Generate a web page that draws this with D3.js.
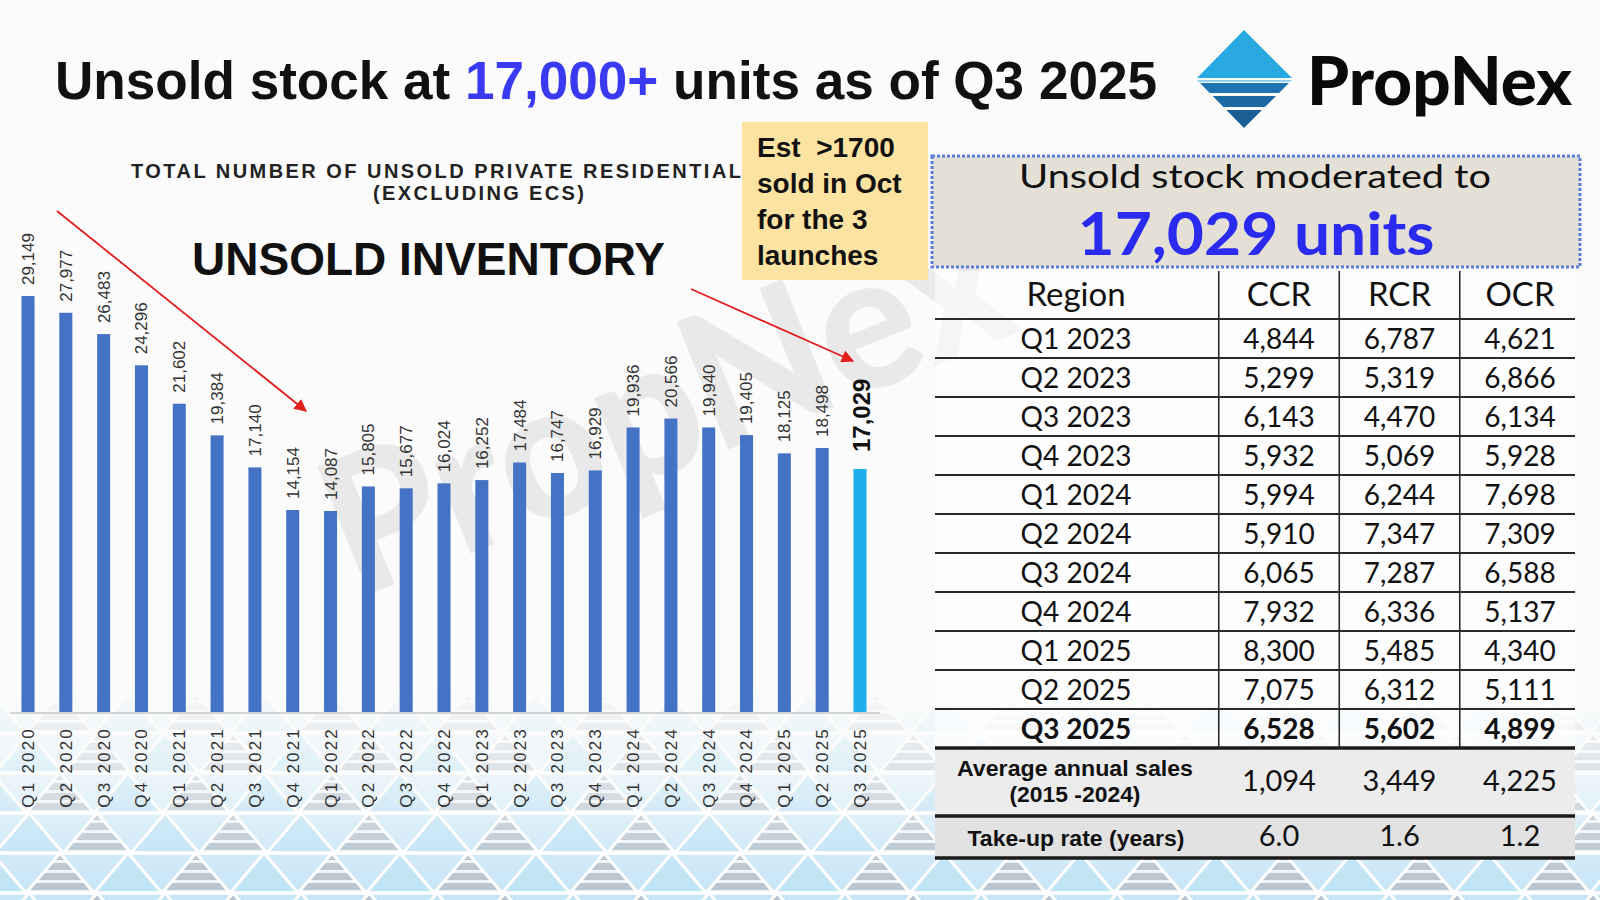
<!DOCTYPE html>
<html><head><meta charset="utf-8">
<script src="https://cdn.jsdelivr.net/npm/d3@7"></script>
<style>html,body{margin:0;padding:0;background:#fbfbfb;} svg{display:block;}</style>
</head><body>
<svg id="c" width="1600" height="900"></svg>
<script>
// ---------------- DATA ----------------
const categories = ["Q1 2020","Q2 2020","Q3 2020","Q4 2020","Q1 2021","Q2 2021","Q3 2021","Q4 2021",
  "Q1 2022","Q2 2022","Q3 2022","Q4 2022","Q1 2023","Q2 2023","Q3 2023","Q4 2023",
  "Q1 2024","Q2 2024","Q3 2024","Q4 2024","Q1 2025","Q2 2025","Q3 2025"];
const unsold = [29149,27977,26483,24296,21602,19384,17140,14154,
  14087,15805,15677,16024,16252,17484,16747,16929,
  19936,20566,19940,19405,18125,18498,17029];
const highlightCategory = "Q3 2025";

const tableQuarters = ["Q1 2023","Q2 2023","Q3 2023","Q4 2023","Q1 2024","Q2 2024",
  "Q3 2024","Q4 2024","Q1 2025","Q2 2025","Q3 2025"];
const tableRegions = ["CCR","RCR","OCR"];
const ccr = [4844,5299,6143,5932,5994,5910,6065,7932,8300,7075,6528];
const rcr = [6787,5319,4470,5069,6244,7347,7287,6336,5485,6312,5602];
const ocr = [4621,6866,6134,5928,7698,7309,6588,5137,4340,5111,4899];
const avgAnnualSales = [1094,3449,4225];
const takeUpRate = [6.0,1.6,1.2];

const titleParts = ["Unsold stock at ","17,000+"," units as of Q3 2025"];
const noteLines = ["Est  >1700","sold in Oct","for the 3","launches"];

// ---------------- SETUP ----------------
const svg = d3.select("#c");
const defs = svg.append("defs");
const fmt = d3.format(",");

svg.append("rect").attr("width",1600).attr("height",900).attr("fill","#fbfbfb");

// ---------- decorative bottom pattern ----------
const bandGrad = defs.append("linearGradient").attr("id","bandGrad")
  .attr("x1",0).attr("y1",0).attr("x2",0).attr("y2",1);
bandGrad.append("stop").attr("offset","0").attr("stop-color","#e6f3fa");
bandGrad.append("stop").attr("offset","1").attr("stop-color","#c6e5f6");
const stripes = defs.append("pattern").attr("id","stripes").attr("patternUnits","userSpaceOnUse")
  .attr("width",10).attr("height",10).attr("y",3);
stripes.append("rect").attr("width",10).attr("height",10).attr("fill","#eef5fa");
stripes.append("rect").attr("width",10).attr("height",7).attr("fill","#b9c5cf");

const deco = svg.append("g");
deco.append("rect").attr("x",0).attr("y",690).attr("width",1600).attr("height",210).attr("fill","url(#bandGrad)");
const rowH = 40, triW = 68;
for (let r = 0; r < 6; r++) {
  const top = 693 + r*rowH;
  const phase = (r % 2 === 1) ? -39 : -76;
  for (let k = 0; k < 30; k++) {
    const ax = phase + k*triW;
    deco.append("path")
      .attr("d", `M${ax},${top} L${ax+triW/2},${top+rowH} L${ax-triW/2},${top+rowH} Z`)
      .attr("fill", k % 2 === 0 ? "url(#stripes)" : "#bfe3f5")
      .attr("stroke","#ffffff").attr("stroke-width",3);
  }
  deco.append("line").attr("x1",0).attr("x2",1600).attr("y1",top).attr("y2",top)
    .attr("stroke","#fff").attr("stroke-width",3);
}
const fade = defs.append("linearGradient").attr("id","fade").attr("gradientUnits","userSpaceOnUse")
  .attr("x1",0).attr("y1",688).attr("x2",0).attr("y2",900);
fade.append("stop").attr("offset","0").attr("stop-color","#fbfbfb").attr("stop-opacity",0.95);
fade.append("stop").attr("offset","0.45").attr("stop-color","#fbfbfb").attr("stop-opacity",0.5);
fade.append("stop").attr("offset","0.75").attr("stop-color","#fbfbfb").attr("stop-opacity",0.12);
fade.append("stop").attr("offset","1").attr("stop-color","#fbfbfb").attr("stop-opacity",0);
deco.append("rect").attr("x",0).attr("y",688).attr("width",1600).attr("height",212).attr("fill","url(#fade)");

// ---------- watermark ----------
svg.append("text").attr("transform","translate(690,465) rotate(-22)")
  .attr("text-anchor","middle").attr("font-family","Lato, sans-serif").attr("font-weight",900)
  .attr("font-size",190).attr("fill","#000").attr("opacity",0.065)
  .attr("textLength",720).attr("lengthAdjust","spacingAndGlyphs")
  .text("PropNex");

// ---------- title ----------
const title = svg.append("text").attr("x",55).attr("y",99)
  .attr("font-family","'Liberation Sans', Arial, sans-serif").attr("font-weight","bold")
  .attr("font-size",54).attr("fill","#111")
  .attr("textLength",1102).attr("lengthAdjust","spacingAndGlyphs");
titleParts.forEach((p,i)=>{
  title.append("tspan").attr("fill", i===1 ? "#3a3af2" : "#111").text(p);
});

// ---------- logo ----------
const logo = svg.append("g");
logo.append("path").attr("d","M1244,30 L1292,78 L1197,78 Z").attr("fill","#29a9e1");
defs.append("clipPath").attr("id","lowTri").append("path").attr("d","M1197,80 L1292,80 L1244,128 Z");
const lg = logo.append("g").attr("clip-path","url(#lowTri)");
lg.append("rect").attr("x",1190).attr("y",80).attr("width",110).attr("height",2).attr("fill","#8fd2f0");
lg.append("rect").attr("x",1190).attr("y",83).attr("width",110).attr("height",10).attr("fill","#1f73b0");
lg.append("rect").attr("x",1190).attr("y",96).attr("width",110).attr("height",11).attr("fill","#1c69a4");
lg.append("rect").attr("x",1190).attr("y",110).attr("width",110).attr("height",20).attr("fill","#1a5e93");
logo.append("text").attr("x",1307).attr("y",105)
  .attr("font-family","Lato, Inter, sans-serif").attr("font-weight",900).attr("font-size",66)
  .attr("fill","#0a0a0a").attr("textLength",265).attr("lengthAdjust","spacingAndGlyphs").text("PropNex");

// ---------- chart headings ----------
svg.append("text").attr("x",131).attr("y",178)
  .attr("font-family","'Liberation Sans', Arial, sans-serif").attr("font-weight","bold").attr("font-size",20)
  .attr("fill","#222").attr("textLength",610).attr("lengthAdjust","spacing")
  .text("TOTAL NUMBER OF UNSOLD PRIVATE RESIDENTIAL");
svg.append("text").attr("x",373).attr("y",200)
  .attr("font-family","'Liberation Sans', Arial, sans-serif").attr("font-weight","bold").attr("font-size",20)
  .attr("fill","#222").attr("textLength",211).attr("lengthAdjust","spacing")
  .text("(EXCLUDING ECS)");
svg.append("text").attr("x",192).attr("y",275)
  .attr("font-family","'Liberation Sans', Arial, sans-serif").attr("font-weight","bold").attr("font-size",46)
  .attr("fill","#111").attr("textLength",473).attr("lengthAdjust","spacingAndGlyphs")
  .text("UNSOLD INVENTORY");

// ---------- bar chart ----------
const baseY = 712;
const x = d3.scaleBand().domain(categories).range([9.1, 878.9]).paddingInner(0.656).paddingOuter(0.328);
const y = d3.scaleLinear().domain([0, 30000]).range([baseY, baseY - 428.1]);
const data = categories.map((c,i)=>({cat:c, v:unsold[i], hi: c===highlightCategory}));

svg.append("line").attr("x1",10).attr("x2",880).attr("y1",baseY+1).attr("y2",baseY+1)
  .attr("stroke","#d3d3d3").attr("stroke-width",2);

svg.append("g").selectAll("rect").data(data).join("rect")
  .attr("x", d=>x(d.cat)).attr("width", x.bandwidth())
  .attr("y", d=>y(d.v)).attr("height", d=>baseY - y(d.v))
  .attr("fill", d=> d.hi ? "#1fb0ec" : "#4472c4");

svg.append("g").selectAll("text").data(data).join("text")
  .attr("transform", d=>`translate(${x(d.cat)+x.bandwidth()/2 + (d.hi?2:0)},${y(d.v) - (d.hi?17:11)}) rotate(-90)`)
  .attr("dy","0.35em").attr("text-anchor","start")
  .attr("font-family","'Liberation Sans', Arial, sans-serif")
  .attr("font-size", d=> d.hi ? 24 : 17).attr("font-weight", d=> d.hi ? "bold" : "normal")
  .attr("fill", d=> d.hi ? "#111" : "#333")
  .text(d=>fmt(d.v));

const xAxis = svg.append("g").attr("transform",`translate(0,${baseY})`)
  .call(d3.axisBottom(x).tickSize(0));
xAxis.select(".domain").remove();
xAxis.selectAll("text")
  .attr("x",-15).attr("y",0).attr("dy","0.35em").attr("transform","rotate(-90)")
  .attr("text-anchor","end")
  .attr("font-family","'Liberation Sans', Arial, sans-serif").attr("font-size",17)
  .attr("letter-spacing","2.2px").attr("fill","#333");

// red arrows
defs.append("marker").attr("id","arrowHead").attr("viewBox","0 0 10 10").attr("refX",9).attr("refY",5)
  .attr("markerWidth",7).attr("markerHeight",7).attr("orient","auto-start-reverse")
  .append("path").attr("d","M0,0 L10,5 L0,10 Z").attr("fill","#e31e1e");
svg.append("line").attr("x1",57).attr("y1",211).attr("x2",306).attr("y2",411)
  .attr("stroke","#e31e1e").attr("stroke-width",1.8).attr("marker-end","url(#arrowHead)");
svg.append("line").attr("x1",691).attr("y1",289).attr("x2",853).attr("y2",361)
  .attr("stroke","#e31e1e").attr("stroke-width",1.8).attr("marker-end","url(#arrowHead)");

// ---------- yellow note ----------
svg.append("rect").attr("x",742).attr("y",122).attr("width",186).attr("height",158).attr("fill","#fde3a1");
svg.append("g").selectAll("text").data(noteLines).join("text")
  .attr("x",757).attr("y",(d,i)=>157 + i*36)
  .attr("font-family","'Liberation Sans', Arial, sans-serif").attr("font-weight","bold").attr("font-size",28)
  .attr("fill","#111").style("white-space","pre").text(d=>d);

// ---------- summary box ----------
svg.append("rect").attr("x",932).attr("y",156).attr("width",648).attr("height",111)
  .attr("fill","#e4e0d6").attr("stroke","#5b7fd6").attr("stroke-width",3).attr("stroke-dasharray","3 2");
svg.append("text").attr("x",1255).attr("y",188).attr("text-anchor","middle")
  .attr("font-family","Lato, sans-serif").attr("font-size",32).attr("fill","#111")
  .attr("textLength",472).attr("lengthAdjust","spacingAndGlyphs").text("Unsold stock moderated to");
svg.append("text").attr("x",1256).attr("y",255).attr("text-anchor","middle")
  .attr("font-family","Lato, sans-serif").attr("font-weight",700).attr("font-size",60).attr("fill","#2b2bf0")
  .attr("textLength",357).attr("lengthAdjust","spacingAndGlyphs").text(fmt(unsold[unsold.length-1]) + " units");

// ---------- table ----------
const tLeft = 935, tRight = 1575, firstColCx = 1076;
const col = d3.scalePoint().domain(tableRegions).range([1279, 1520]);
const row = d3.scaleBand().domain(tableQuarters).range([319, 748]);
const colStep = col.step();
const tbl = svg.append("g");
tbl.append("rect").attr("x",tLeft).attr("y",271).attr("width",tRight-tLeft).attr("height",748-271)
  .attr("fill","#ffffff").attr("opacity",0.55);
tbl.append("rect").attr("x",tLeft).attr("y",748).attr("width",tRight-tLeft).attr("height",68).attr("fill","#ececec");
tbl.append("rect").attr("x",tLeft).attr("y",816).attr("width",tRight-tLeft).attr("height",42).attr("fill","#e2e2e2");

const tFont = "Lato, sans-serif";
// header
tbl.append("text").attr("x",firstColCx).attr("y",306).attr("text-anchor","middle")
  .attr("font-family",tFont).attr("font-size",33).attr("fill","#111").text("Region");
tbl.selectAll("text.hdr").data(tableRegions).join("text").attr("class","hdr")
  .attr("x",d=>col(d)).attr("y",306).attr("text-anchor","middle")
  .attr("font-family",tFont).attr("font-size",33).attr("fill","#111").text(d=>d);

const cols = [ccr, rcr, ocr];
const rowsData = tableQuarters.map((q,i)=>({q, vals: cols.map(c=>c[i]), bold: i===tableQuarters.length-1}));
const rg = tbl.selectAll("g.row").data(rowsData).join("g").attr("class","row")
  .attr("transform", d=>`translate(0,${row(d.q) + row.bandwidth()/2 + 10})`);
rg.append("text").attr("x",firstColCx).attr("text-anchor","middle")
  .attr("font-family",tFont).attr("font-size",28).attr("font-weight",d=>d.bold?700:400)
  .attr("fill","#111").text(d=>d.q);
rg.selectAll("text.v").data(d=>d.vals.map((v,j)=>({v, r:tableRegions[j], bold:d.bold}))).join("text").attr("class","v")
  .attr("x",d=>col(d.r)).attr("text-anchor","middle")
  .attr("font-family",tFont).attr("font-size",28).attr("font-weight",d=>d.bold?700:400)
  .attr("fill","#111").text(d=>fmt(d.v));

// grid lines
[319, ...tableQuarters.slice(0,-1).map(q=>row(q)+row.step())].forEach(yy=>{
  tbl.append("line").attr("x1",tLeft).attr("x2",tRight).attr("y1",yy).attr("y2",yy)
    .attr("stroke","#2a2a2a").attr("stroke-width",2);
});
[748, 816, 858].forEach(yy=>{
  tbl.append("line").attr("x1",tLeft).attr("x2",tRight).attr("y1",yy).attr("y2",yy)
    .attr("stroke","#1a1a1a").attr("stroke-width",3.5);
});
tableRegions.forEach(r=>{
  const xx = col(r) - colStep/2;
  tbl.append("line").attr("x1",xx).attr("x2",xx).attr("y1",271).attr("y2",748)
    .attr("stroke","#2a2a2a").attr("stroke-width",1.6);
});

// bottom rows
const nf = "'Liberation Sans Narrow', 'Liberation Sans', Arial, sans-serif";
tbl.append("text").attr("x",1075).attr("y",776).attr("text-anchor","middle")
  .attr("font-family",nf).attr("font-weight","bold").attr("font-size",22).attr("fill","#111")
  .attr("textLength",236).attr("lengthAdjust","spacingAndGlyphs").text("Average annual sales");
tbl.append("text").attr("x",1075).attr("y",802).attr("text-anchor","middle")
  .attr("font-family",nf).attr("font-weight","bold").attr("font-size",22).attr("fill","#111")
  .attr("textLength",131).attr("lengthAdjust","spacingAndGlyphs").text("(2015 -2024)");
tbl.append("text").attr("x",1076).attr("y",846).attr("text-anchor","middle")
  .attr("font-family",nf).attr("font-weight","bold").attr("font-size",22).attr("fill","#111")
  .attr("textLength",217).attr("lengthAdjust","spacingAndGlyphs").text("Take-up rate (years)");
tbl.selectAll("text.avg").data(avgAnnualSales).join("text").attr("class","avg")
  .attr("x",(d,i)=>col(tableRegions[i])).attr("y",791).attr("text-anchor","middle")
  .attr("font-family",tFont).attr("font-size",29).attr("fill","#111").text(d=>fmt(d));
tbl.selectAll("text.tu").data(takeUpRate).join("text").attr("class","tu")
  .attr("x",(d,i)=>col(tableRegions[i])).attr("y",846).attr("text-anchor","middle")
  .attr("font-family",tFont).attr("font-size",29).attr("fill","#111").text(d=>d3.format(".1f")(d));
</script>
</body></html>
